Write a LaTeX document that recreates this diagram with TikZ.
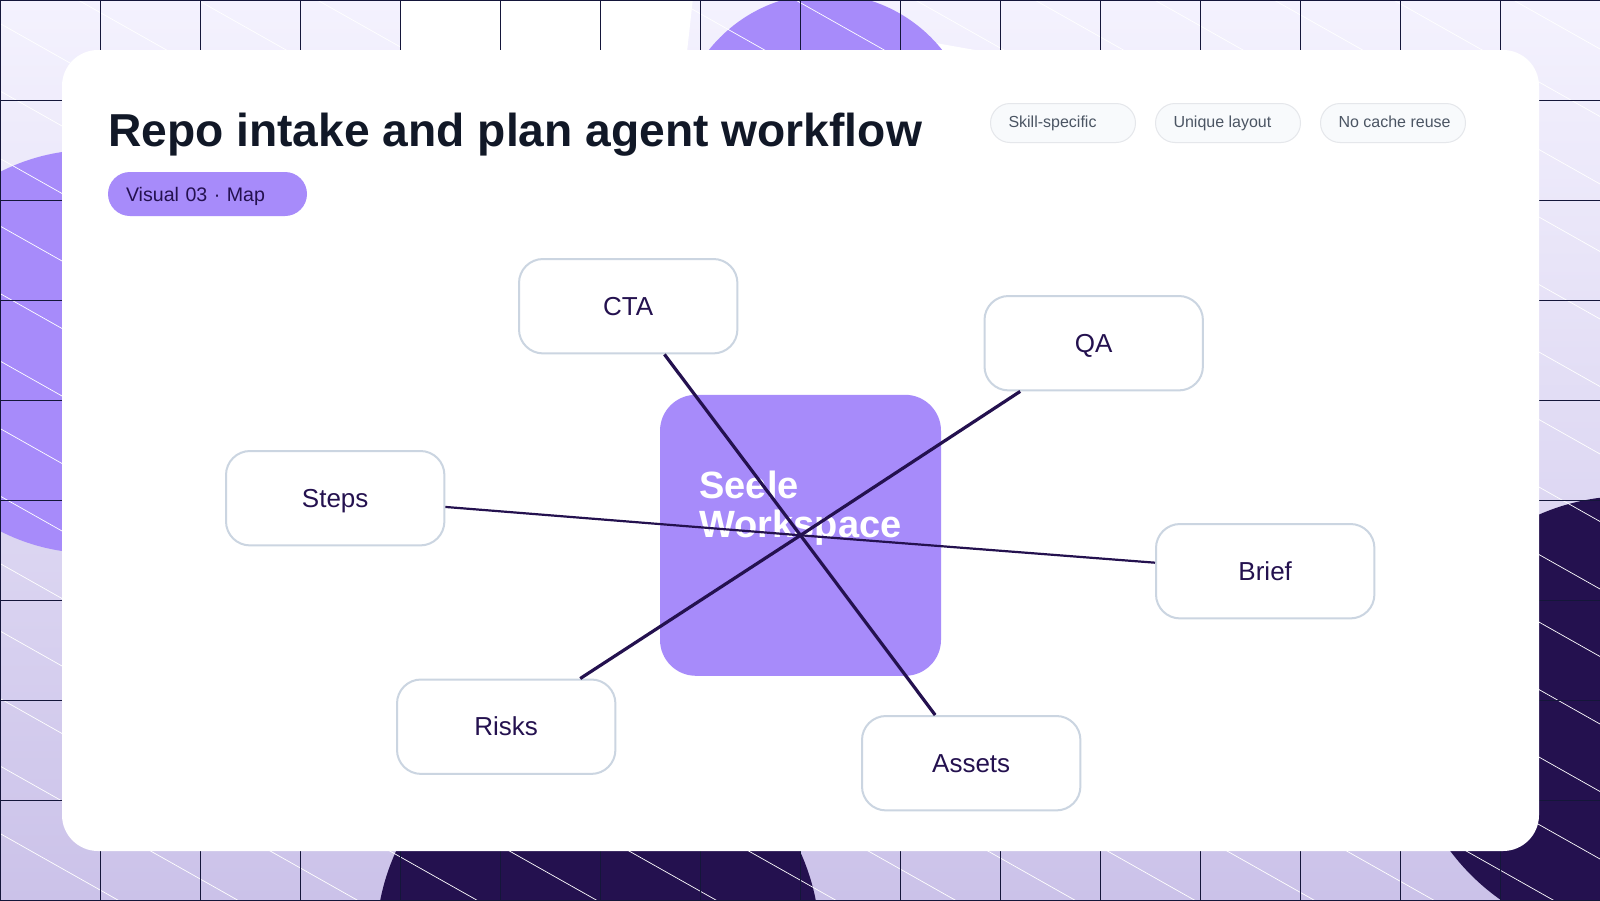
\documentclass[tikz,border=0pt]{standalone}
\usepackage{fontspec}
\setmainfont{Liberation Sans}
\definecolor{violet}{HTML}{A78BFA}
\definecolor{ink}{HTML}{24114F}
\definecolor{gridline}{HTML}{14163A}
\definecolor{headline}{HTML}{111827}
\definecolor{chiptext}{HTML}{4B5563}
\definecolor{chipedge}{HTML}{E5E7EB}
\definecolor{chipfill}{HTML}{F8FAFC}
\definecolor{topicedge}{HTML}{CBD5E1}
\definecolor{washtop}{RGB}{244,242,254}
\definecolor{washbottom}{RGB}{203,194,233}
\tikzset{
	topic/.style={draw=topicedge, fill=white, line width=2pt, rounded corners=24pt, minimum width=218.4pt, minimum height=94.4pt,
		text=ink, text height=21pt, text depth=3pt, font=\fontsize{26}{30}\selectfont},
	chip/.style={draw=chipedge, fill=chipfill, line width=1pt, rounded corners=19.5pt, minimum width=145pt, minimum height=39pt,
		text=chiptext, inner xsep=18pt, text height=12pt, text depth=4pt, font=\fontsize{16}{20}\selectfont},
	spoke/.style={draw=ink, line width=#1},
}
\begin{document}
\begin{tikzpicture}[x=1pt, y=-1pt]
\useasboundingbox (0,0) rectangle (1600,900);
% backdrop
\begin{scope}
	\clip (0,0) rectangle (1600,900);
	\shade[top color=washtop, bottom color=washbottom] (0,0) rectangle (1600,900);
	\fill[white] (400,-2) -- (693,-2) -- (687,52) -- (400,52) -- cycle;
	\fill[white] (930,42) -- (975,50) -- (975,52) -- (930,52) -- cycle;
	\fill[violet] (825.5,142.7) circle (149);
	\fill[violet] (92,351.5) circle (201.7);
	\fill[ink] (598,943.5) circle (222);
	\fill[ink] (1628,718) circle (222);
	\foreach \k in {-15,...,13}{
		\draw[white, line width=0.7pt] (0,23.5+67.5*\k) -- (1600,23.5+67.5*\k+903);
	}
	\foreach \k in {0,...,16}{
		\draw[gridline, line width=1.4pt] (100*\k+0.6,0) -- (100*\k+0.6,900);
	}
	\foreach \k in {0,...,9}{
		\draw[gridline, line width=1.4pt] (0,100*\k+0.6) -- (1600,100*\k+0.6);
	}
\end{scope}
\fill[white, rounded corners=36pt] (62,50) rectangle (1539,851);

\node[anchor=base west, inner sep=0pt, text=headline, font=\bfseries\fontsize{46.2}{50}\selectfont] (title) at (108,146.4) {Repo intake and plan agent workflow};
\node[fill=violet, rounded corners=22pt, minimum width=199pt, minimum height=44pt, text=ink, text width=163pt, inner xsep=18pt, align=left,
	text height=19pt, text depth=4pt, font=\fontsize{19.6}{24}\selectfont] (badge) at (207.5,194) {Visual 03 · Map};
\node[chip] (skill) at (1063,123) {\makebox[109pt][l]{Skill-specific}};
\node[chip] (layout) at (1228,123) {\makebox[109pt][l]{Unique layout}};
\node[chip] (reuse) at (1393,123) {\makebox[109pt][l]{No cache reuse}};

\node[fill=violet, rounded corners=36pt, minimum width=281pt, minimum height=281pt, text=white, align=left, text depth=63pt,
	font=\bfseries\fontsize{38}{39}\selectfont] (hub) at (800.5,535.3) {Seele\\\makebox[202pt][l]{Workspace}};

\node[topic] (cta) at (628.2,306.2) {CTA};
\node[topic] (qa) at (1093.7,343.2) {QA};
\node[topic] (brief) at (1265.2,571.2) {Brief};
\node[topic] (assets) at (971.2,763.2) {Assets};
\node[topic] (risks) at (506.2,726.7) {Risks};
\node[topic] (steps) at (335.2,498.2) {Steps};

\foreach \n/\w in {cta/3.2pt,qa/3.2pt,brief/2.2pt,assets/3.2pt,risks/3.2pt,steps/2.2pt}{
	\draw[spoke=\w] (hub.center) -- (\n);
}
\end{tikzpicture}
\end{document}
